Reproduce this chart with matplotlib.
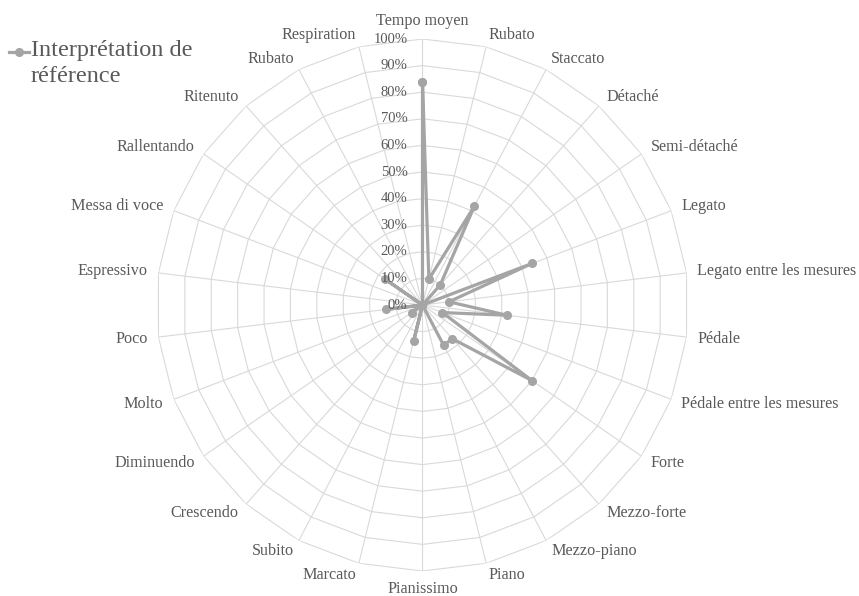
import numpy as np
import matplotlib.pyplot as plt
from matplotlib.lines import Line2D

plt.rcParams['font.family'] = ['Liberation Serif', 'DejaVu Serif']

categories = ['Tempo moyen', 'Rubato', 'Staccato', 'Détaché', 'Semi-détaché', 'Legato',
              'Legato entre les mesures', 'Pédale', 'Pédale entre les mesures', 'Forte',
              'Mezzo-forte', 'Mezzo-piano', 'Piano', 'Pianissimo', 'Marcato', 'Subito',
              'Crescendo', 'Diminuendo', 'Molto', 'Poco', 'Espressivo', 'Messa di voce',
              'Rallentando', 'Ritenuto', 'Rubato', 'Respiration']
values = [84, 10, 42, 10, 0, 44, 10, 32, 8, 50, 17, 17, 0, 0, 14, 0, 0, 5, 0, 14, 0, 0, 17, 0, 0, 0]
rticks = [0, 10, 20, 30, 40, 50, 60, 70, 80, 90, 100]
series_name = 'Interprétation de\nréférence'

grid_col = '#D9D9D9'
line_col = '#A5A5A5'
text_col = '#595959'

n = len(categories)
theta = np.arange(n) * 2 * np.pi / n

fig = plt.figure(figsize=(8.59, 5.96), dpi=100)
# centre (422.5, 305) px, radius 266 px
ax = fig.add_axes([156.5 / 859, 25 / 596, 532 / 859, 532 / 596], projection='polar')
ax.set_theta_zero_location('N')
ax.set_theta_direction(-1)
ax.set_ylim(0, 100)
ax.grid(False)
ax.set_xticks([])
ax.set_yticks([])
ax.spines['polar'].set_visible(False)

# polygon rings and spokes
th_closed = np.append(theta, theta[0])
for r in rticks[1:]:
    ax.plot(th_closed, [r] * (n + 1), color=grid_col, lw=0.8, zorder=1)
for t in theta:
    ax.plot([t, t], [0, 100], color=grid_col, lw=0.8, zorder=1)

# data
vals = np.append(values, values[0])
ax.plot(th_closed, vals, color=line_col, lw=2.3, marker='o', ms=5.5, zorder=3)

# radial tick labels
for r in rticks:
    ax.annotate(f'{r}%', xy=(0, r), xytext=(-15, 0), textcoords='offset pixels',
                ha='right', va='center', fontsize=10.5, color=text_col, zorder=4)

# category labels
for t, lab in zip(theta, categories):
    s, c = np.sin(t), np.cos(t)
    if abs(s) < 0.1:
        ha = 'center'
        va = 'bottom' if c > 0 else 'top'
        dx, dy = 0, 10 * np.sign(c)
    else:
        ha = 'left' if s > 0 else 'right'
        va = 'center'
        dx, dy = 11 * s, 12 * c
    ax.annotate(lab, xy=(t, 100), xytext=(dx, dy), textcoords='offset pixels',
                ha=ha, va=va, fontsize=11.6, color=text_col, annotation_clip=False)

# legend entry
ly = 1 - 52 / 596
fig.add_artist(Line2D([9 / 859, 29 / 859], [ly, ly], color=line_col, lw=2.3))
fig.add_artist(Line2D([19 / 859], [ly], color=line_col, marker='o', ms=5.5, lw=0))
fig.text(31 / 859, 1 - 40 / 596, series_name, ha='left', va='top', fontsize=17.5,
         color=text_col, linespacing=1.3)

fig.savefig('out.png', dpi=100)
